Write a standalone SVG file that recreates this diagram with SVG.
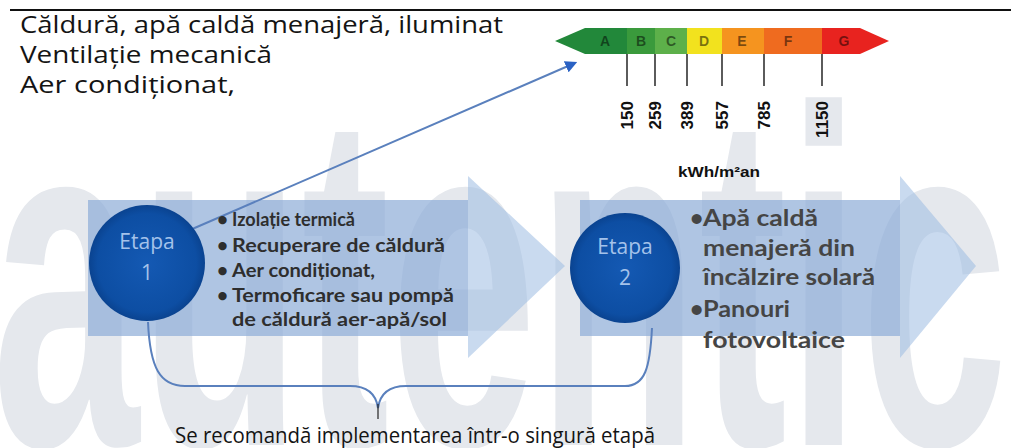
<svg xmlns="http://www.w3.org/2000/svg" width="1011" height="448" viewBox="0 0 1011 448">
<style>
.wm{font-family:"Liberation Sans",Arial,sans-serif;font-weight:bold;fill:#e5e8ed}
.top{font-family:"Open Sans","Liberation Sans",sans-serif;font-size:23px;fill:#141414}
.num{font-family:"Liberation Sans",Arial,sans-serif;font-weight:bold;font-size:17px;fill:#111}
.cls{font-family:"Liberation Sans",Arial,sans-serif;font-weight:bold;font-size:14px;fill:#000;fill-opacity:0.5}
.et{font-family:"Open Sans","Liberation Sans",sans-serif;font-size:21px;fill:#a4c2ea;text-anchor:middle}
.b1{font-family:"Lato","Open Sans",sans-serif;font-weight:bold;font-size:19px;fill:#2e2e2e}
.b2{font-family:"Lato","Open Sans",sans-serif;font-weight:bold;font-size:23px;fill:#454545}
.bot{font-family:"Open Sans","Liberation Sans",sans-serif;font-size:21px;fill:#141414}
.arr{fill:#9dbbe2;fill-opacity:0.55}
.band{fill:#7d9fcf;fill-opacity:0.35}
.tick{stroke:#333;stroke-width:1.6}
.con{fill:none;stroke:#5a80bd;stroke-width:2}
</style>
<defs>
<radialGradient id="cg" cx="0.5" cy="0.5" r="0.5">
<stop offset="0" stop-color="#1459b3"/>
<stop offset="0.85" stop-color="#0d4ea3"/>
<stop offset="1" stop-color="#0a4390"/>
</radialGradient>
<marker id="ah" viewBox="0 0 10 10" refX="8" refY="5" markerWidth="6" markerHeight="6" orient="auto">
<path d="M0,0 L10,5 L0,10 z" fill="#2a62c4"/>
</marker>
</defs>
<rect width="1011" height="448" fill="#fff"/>
<text class="wm" x="-8" y="445" font-size="480" textLength="1016" lengthAdjust="spacingAndGlyphs">autentic</text>
<line x1="10" y1="10" x2="1011" y2="10" stroke="#111" stroke-width="2"/>
<g id="intro">
<text class="top" x="20" y="33" textLength="483" lengthAdjust="spacingAndGlyphs">Căldură, apă caldă menajeră, iluminat</text>
<text class="top" x="20" y="63" textLength="252" lengthAdjust="spacingAndGlyphs">Ventilație mecanică</text>
<text class="top" x="20" y="93" textLength="215" lengthAdjust="spacingAndGlyphs">Aer condiționat,</text>
</g>
<g id="energy-scale">
<polygon points="555,41 585,28 627,28 627,54 585,54" fill="#22883a"/>
<rect x="627" y="28" width="28" height="26" fill="#3a9a3c"/>
<rect x="655" y="28" width="32" height="26" fill="#5db04a"/>
<rect x="687" y="28" width="35" height="26" fill="#f2e21e"/>
<rect x="722" y="28" width="42" height="26" fill="#f5941f"/>
<rect x="764" y="28" width="58" height="26" fill="#ef6b1f"/>
<polygon points="822,28 860,28 889,41 860,54 822,54" fill="#e8231f"/>
<text class="cls" x="605" y="46" text-anchor="middle">A</text>
<text class="cls" x="641" y="46" text-anchor="middle">B</text>
<text class="cls" x="671" y="46" text-anchor="middle">C</text>
<text class="cls" x="704" y="46" text-anchor="middle">D</text>
<text class="cls" x="742" y="46" text-anchor="middle">E</text>
<text class="cls" x="788" y="46" text-anchor="middle">F</text>
<text class="cls" x="844" y="46" text-anchor="middle">G</text>
<line class="tick" x1="627" y1="54" x2="627" y2="86"/>
<line class="tick" x1="655" y1="54" x2="655" y2="86"/>
<line class="tick" x1="687" y1="54" x2="687" y2="86"/>
<line class="tick" x1="722" y1="54" x2="722" y2="86"/>
<line class="tick" x1="764" y1="54" x2="764" y2="86"/>
<line class="tick" x1="822" y1="54" x2="822" y2="86"/>
<text class="num" transform="translate(633,101) rotate(-90)" text-anchor="end">150</text>
<text class="num" transform="translate(661,101) rotate(-90)" text-anchor="end">259</text>
<text class="num" transform="translate(693,101) rotate(-90)" text-anchor="end">389</text>
<text class="num" transform="translate(728,101) rotate(-90)" text-anchor="end">557</text>
<text class="num" transform="translate(770,101) rotate(-90)" text-anchor="end">785</text>
<text class="num" transform="translate(828,101) rotate(-90)" text-anchor="end">1150</text>
<text x="678" y="177" font-family="Liberation Sans, Arial, sans-serif" font-weight="bold" font-size="14" fill="#111" textLength="82" lengthAdjust="spacingAndGlyphs">kWh/m²an</text>
</g>
<g id="arrow-1">
<polygon class="arr" points="88,200 468,200 468,176 565,266 468,358 468,336 88,336"/>
<rect class="band" x="88" y="200" width="380" height="136"/>
</g>
<g id="arrow-2">
<polygon class="arr" points="580,200 900,200 900,176 976,266 900,358 900,336 580,336"/>
<rect class="band" x="580" y="200" width="320" height="136"/>
</g>
<g id="connectors">
<line class="con" x1="190" y1="230" x2="575" y2="63" marker-end="url(#ah)"/>
<path class="con" d="M148,322 C150,368 160,386 185,386 L350,386 C368,386 376,394 378,408 C380,394 388,386 406,386 L625,386 C645,386 650,368 652,328"/>
<line x1="378" y1="404" x2="378" y2="419" stroke="#222" stroke-width="1.2"/>
</g>
<g id="etapa-1">
<circle cx="147" cy="263" r="58" fill="url(#cg)"/>
<text class="et" x="147" y="249">Etapa</text>
<text class="et" x="147" y="280">1</text>
<text class="b1" x="217" y="226">•</text>
<text class="b1" x="232" y="226" textLength="123" lengthAdjust="spacingAndGlyphs">Izolație termică</text>
<text class="b1" x="217" y="252">•</text>
<text class="b1" x="232" y="252" textLength="213" lengthAdjust="spacingAndGlyphs">Recuperare de căldură</text>
<text class="b1" x="217" y="277">•</text>
<text class="b1" x="232" y="277" textLength="143" lengthAdjust="spacingAndGlyphs">Aer condiționat,</text>
<text class="b1" x="217" y="302">•</text>
<text class="b1" x="232" y="302" textLength="222" lengthAdjust="spacingAndGlyphs">Termoficare sau pompă</text>
<text class="b1" x="232" y="326" textLength="215" lengthAdjust="spacingAndGlyphs">de căldură aer-apă/sol</text>
</g>
<g id="etapa-2">
<circle cx="625" cy="268" r="55" fill="url(#cg)"/>
<text class="et" x="625" y="254">Etapa</text>
<text class="et" x="625" y="285">2</text>
<text class="b2" x="690" y="226">•</text>
<text class="b2" x="703" y="226" textLength="115" lengthAdjust="spacingAndGlyphs">Apă caldă</text>
<text class="b2" x="703" y="256" textLength="152" lengthAdjust="spacingAndGlyphs">menajeră din</text>
<text class="b2" x="703" y="285" textLength="172" lengthAdjust="spacingAndGlyphs">încălzire solară</text>
<text class="b2" x="690" y="317">•</text>
<text class="b2" x="703" y="317" textLength="87" lengthAdjust="spacingAndGlyphs">Panouri</text>
<text class="b2" x="703" y="348" textLength="142" lengthAdjust="spacingAndGlyphs">fotovoltaice</text>
</g>
<g id="note">
<text class="bot" x="175" y="443" textLength="480" lengthAdjust="spacingAndGlyphs">Se recomandă implementarea într-o singură etapă</text>
</g>
</svg>
